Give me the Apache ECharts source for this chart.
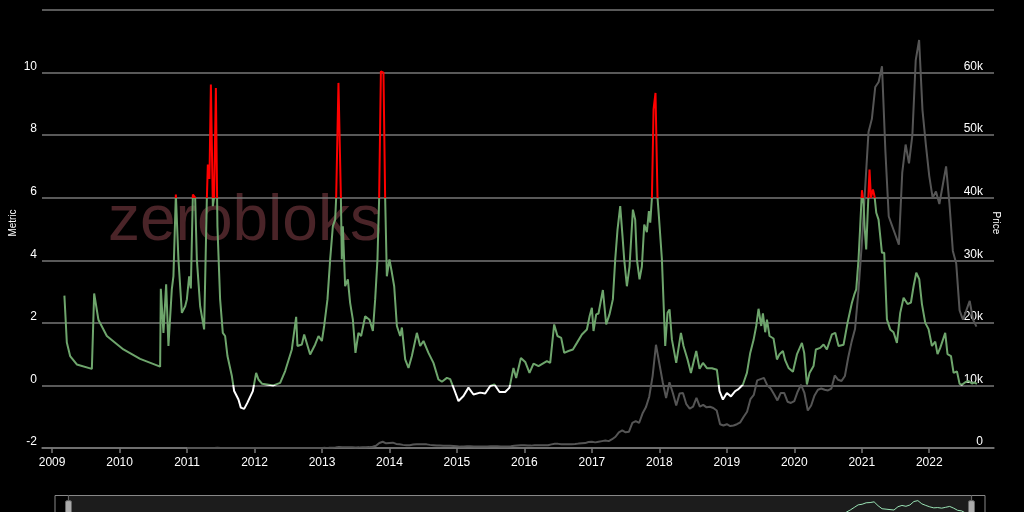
<!DOCTYPE html>
<html>
<head>
<meta charset="utf-8">
<script src="https://cdn.jsdelivr.net/npm/echarts@6/dist/echarts.min.js"></script>
<style>html,body{margin:0;padding:0;background:#000;}#c{width:1024px;height:512px;}</style>
</head>
<body>
<div id="c"></div>
<script>
const yearTicks = [2009,2010,2011,2012,2013,2014,2015,2016,2017,2018,2019,2020,2021,2022];
const metricTicks = [-2,0,2,4,6,8,10,12];
const priceTicks = [0,10,20,30,40,50,60,70];

const metricYears = [
2009.182,2009.218,2009.267,2009.366,2009.589,2009.623,2009.686,2009.811,2010.057,2010.304,
2010.601,2010.611,2010.650,2010.690,2010.724,2010.749,2010.774,2010.798,2010.834,2010.872,
2010.923,2010.972,2010.997,2011.031,2011.056,2011.086,2011.120,2011.145,2011.194,2011.253,
2011.293,2011.308,2011.332,2011.353,2011.382,2011.401,2011.427,2011.450,2011.490,2011.530,
2011.564,2011.599,2011.628,2011.664,2011.698,2011.762,2011.797,2011.846,2011.895,2011.975,
2012.024,2012.058,2012.113,2012.183,2012.280,2012.380,2012.454,2012.553,2012.617,2012.636,
2012.701,2012.736,2012.824,2012.899,2012.948,2012.998,2013.032,2013.081,2013.121,2013.161,
2013.195,2013.210,2013.244,2013.280,2013.294,2013.309,2013.343,2013.383,2013.417,2013.457,
2013.496,2013.540,2013.580,2013.640,2013.704,2013.754,2013.788,2013.822,2013.847,2013.873,
2013.911,2013.936,2013.961,2014.000,2014.036,2014.070,2014.110,2014.159,2014.184,2014.233,
2014.282,2014.332,2014.406,2014.455,2014.504,2014.578,2014.652,2014.726,2014.777,2014.851,
2014.900,2014.959,2015.023,2015.097,2015.171,2015.245,2015.344,2015.419,2015.493,2015.556,
2015.631,2015.715,2015.779,2015.838,2015.878,2015.948,2016.012,2016.075,2016.135,2016.209,
2016.333,2016.382,2016.441,2016.490,2016.545,2016.590,2016.653,2016.719,2016.778,2016.852,
2016.926,2016.965,2017.000,2017.024,2017.064,2017.098,2017.163,2017.212,2017.261,2017.311,
2017.346,2017.380,2017.420,2017.454,2017.479,2017.519,2017.558,2017.608,2017.642,2017.667,
2017.706,2017.741,2017.776,2017.815,2017.845,2017.865,2017.890,2017.914,2017.943,2017.973,
2017.993,2018.038,2018.087,2018.121,2018.151,2018.186,2018.250,2018.320,2018.358,2018.418,
2018.468,2018.547,2018.596,2018.646,2018.705,2018.779,2018.853,2018.892,2018.942,2019.001,
2019.061,2019.124,2019.173,2019.239,2019.298,2019.347,2019.396,2019.436,2019.470,2019.510,
2019.535,2019.569,2019.595,2019.633,2019.692,2019.743,2019.781,2019.831,2019.866,2019.915,
2019.980,2020.039,2020.113,2020.147,2020.187,2020.226,2020.285,2020.320,2020.384,2020.434,
2020.483,2020.558,2020.607,2020.656,2020.730,2020.789,2020.854,2020.889,2020.918,2020.952,
2020.977,2021.003,2021.027,2021.041,2021.066,2021.086,2021.115,2021.136,2021.166,2021.189,
2021.215,2021.249,2021.274,2021.299,2021.333,2021.373,2021.422,2021.471,2021.521,2021.570,
2021.620,2021.679,2021.729,2021.768,2021.808,2021.852,2021.892,2021.941,2021.990,2022.040,
2022.089,2022.123,2022.163,2022.237,2022.271,2022.322,2022.361,2022.411,2022.450,2022.485,
2022.534,2022.583,2022.633,2022.667,2022.707
];
const metricValues = [
2.87,1.37,0.94,0.67,0.53,2.94,2.1,1.58,1.15,0.85,
0.6,3.09,1.68,3.23,1.26,1.26,3.07,3.49,6.1,4.03,
2.32,2.53,2.75,3.49,3.1,6.1,6.0,4.03,2.53,1.79,
5.94,7.06,6.6,9.62,5.73,6.0,9.51,5.09,2.75,1.68,
1.58,0.94,0.94,0.3,-0.18,-0.45,-0.71,-0.75,-0.55,-0.18,
0.4,0.19,0.05,0.03,0.0,0.08,0.46,1.15,2.19,1.26,
1.31,1.63,0.99,1.31,1.58,1.42,1.9,2.75,4.03,5.09,
5.3,6.0,9.67,6.0,4.03,5.09,3.17,3.39,2.64,2.11,
1.04,1.68,1.58,2.21,2.1,1.74,2.75,4.03,6.0,10.04,
10.0,6.0,3.49,4.03,3.6,3.17,1.9,1.58,1.85,0.83,
0.56,0.94,1.68,1.26,1.42,1.04,0.72,0.19,0.12,0.24,
0.2,-0.13,-0.5,-0.34,-0.07,-0.29,-0.23,-0.26,-0.02,0.03,
-0.21,-0.21,-0.07,0.56,0.24,0.88,0.75,0.4,0.7,0.62,
0.78,0.72,1.95,1.58,1.52,1.04,1.1,1.15,1.36,1.63,
1.79,2.2,2.48,1.74,2.27,2.3,3.05,1.95,2.27,2.75,
4.03,4.98,5.73,4.77,4.03,3.17,3.8,5.62,5.3,4.03,
3.39,3.8,5.14,4.9,5.57,5.2,6.0,8.82,9.35,6.0,
5.41,4.03,1.26,2.32,2.43,1.47,0.72,1.68,1.26,0.83,
0.4,1.1,0.53,0.72,0.55,0.55,0.5,-0.18,-0.45,-0.24,
-0.35,-0.18,-0.12,0.03,0.4,1.04,1.45,1.9,2.45,1.9,
2.3,1.7,2.1,1.58,1.5,0.83,1.0,1.1,0.8,0.56,
0.44,0.99,1.36,1.04,0.03,0.4,0.62,1.15,1.2,1.31,
1.15,1.63,1.68,1.26,1.3,2.0,2.64,2.9,3.07,4.03,
5.09,6.24,5.8,5.1,4.35,5.4,6.9,6.0,6.26,6.05,
5.52,5.3,5.3,4.24,4.24,2.11,1.79,1.7,1.36,2.32,
2.8,2.6,2.65,3.17,3.6,3.4,2.6,2.0,1.8,1.26,
1.4,1.0,1.2,1.68,1.0,0.94,0.4,0.45,0.05,0.02,
0.1,0.14,0.06,0.1,0.05
];

// price in thousands, sampled every 0.05 year from 2011.00
const priceStart = 2011.0;
const priceStep = 0.05;
const priceValues = [
0.0003,0.001,0.0009,0.0009,0.0008,0.001,0.004,0.008,0.018,0.02,0.015,0.014,0.011,0.008,0.005,0.004,0.003,0.0025,0.003,0.004,
0.005,0.0065,0.005,0.005,0.005,0.005,0.005,0.005,0.0055,0.0065,0.008,0.009,0.011,0.012,0.012,0.011,0.011,0.012,0.013,0.013,
0.014,0.02,0.03,0.05,0.1,0.16,0.12,0.12,0.11,0.1,0.09,0.1,0.12,0.13,0.14,0.19,0.35,0.8,1.0,0.75,
0.8,0.85,0.65,0.6,0.5,0.45,0.45,0.55,0.6,0.6,0.6,0.58,0.5,0.45,0.4,0.38,0.35,0.37,0.35,0.32,
0.28,0.22,0.24,0.26,0.26,0.23,0.24,0.24,0.23,0.24,0.27,0.28,0.26,0.23,0.24,0.24,0.28,0.36,0.4,0.44,
0.43,0.39,0.38,0.42,0.42,0.42,0.45,0.45,0.58,0.68,0.66,0.6,0.58,0.6,0.61,0.64,0.7,0.74,0.78,0.95,
1.0,0.9,1.0,1.1,1.2,1.1,1.4,1.8,2.5,2.8,2.5,2.6,4.0,4.3,4.0,5.5,6.5,8.2,11.5,16.5,
13.5,10.5,8.0,10.5,8.8,6.8,8.7,8.8,7.0,6.3,6.6,8.0,6.6,6.9,6.5,6.6,6.4,6.0,3.8,3.6,
3.8,3.5,3.6,3.8,4.1,5.0,5.8,7.8,8.5,10.8,11.0,11.2,10.0,9.5,8.6,7.6,8.8,8.8,7.4,7.2,
7.5,9.0,10.1,8.8,6.0,6.8,8.4,9.3,9.5,9.3,9.2,9.5,11.6,10.9,10.7,11.5,14.5,17.0,19.0,25.0,
32.5,41.5,50.5,52.6,57.7,58.5,61.0,47.5,37.0,35.5,34.0,32.5,44.0,48.5,45.5,50.0,62.0,65.2,54.0,48.5,
43.5,40.0,41.0,39.0,42.0,45.0,39.0,31.5,29.5,22.0,20.5,22.0,23.5,20.5,19.4
];

const metricData = metricYears.map((y, i) => [y, metricValues[i]]);
const priceData = priceValues.map((v, i) => [Math.round((priceStart + i * priceStep) * 1000) / 1000, v]);

const GRID = '#777';
const TXT = '#ffffff';
const FONT = '"Liberation Sans", Arial, Helvetica, sans-serif';

const chart = echarts.init(document.getElementById('c'), null, {renderer: 'canvas'});
chart.setOption({
  backgroundColor: '#000',
  animation: false,
  textStyle: {fontFamily: FONT},
  graphic: [{
    type: 'text', left: 108, top: 190, z: -1, silent: true,
    style: {text: 'zerobloks', fill: '#4a2428', font: '64px ' + FONT}
  }],
  grid: {left: 42, right: 30, top: 10, bottom: 64, outerBoundsMode: 'none', containLabel: false},
  xAxis: {
    type: 'value', min: 2008.647, max: 2023.163,
    axisLine: {onZero: false, lineStyle: {color: GRID, width: 1.5}},
    axisTick: {customValues: yearTicks, length: 5, lineStyle: {color: GRID, width: 1.5}},
    axisLabel: {customValues: yearTicks, color: TXT, fontSize: 12, margin: 9, formatter: v => String(Math.round(v))},
    splitLine: {show: false}
  },
  yAxis: [{
    type: 'value', min: metricTicks[0], max: metricTicks[metricTicks.length - 1], interval: 2,
    name: 'Metric', nameLocation: 'middle', nameGap: 24, nameRotate: 90, nameMoveOverlap: false,
    nameTextStyle: {color: TXT, fontSize: 10, padding: [0, 0, 0, 12]},
    axisLine: {show: false}, axisTick: {show: false},
    axisLabel: {color: TXT, fontSize: 12, margin: 5, verticalAlign: 'bottom', showMaxLabel: false},
    splitLine: {lineStyle: {color: GRID, width: 1.5}}
  }, {
    type: 'value', min: priceTicks[0], max: priceTicks[priceTicks.length - 1], interval: 10, position: 'right',
    name: 'Price', nameLocation: 'middle', nameGap: -3, nameRotate: -90, nameMoveOverlap: false,
    nameTextStyle: {color: TXT, fontSize: 10, padding: [0, 12, 0, 0]},
    axisLine: {show: false}, axisTick: {show: false},
    axisLabel: {inside: true, color: TXT, fontSize: 12, margin: 11, verticalAlign: 'bottom', showMaxLabel: false,
      formatter: v => v === 0 ? '0' : v + 'k'},
    splitLine: {show: false}
  }],
  dataZoom: [{
    type: 'slider', xAxisIndex: 0, filterMode: 'none',
    startValue: 2008.85, endValue: 2022.96,
    left: 52, right: 41, top: 495, height: 30,
    showDetail: false, moveHandleSize: 0, brushSelect: false,
    backgroundColor: 'rgba(0,0,0,0)', borderColor: '#888',
    fillerColor: 'rgba(255,255,255,0.11)',
    handleStyle: {color: '#aaaaaa', borderColor: '#666666'},
    dataBackground: {lineStyle: {color: '#7ccf9a', width: 1, opacity: 1}, areaStyle: {color: 'rgba(124,207,154,0)'}},
    selectedDataBackground: {lineStyle: {color: '#8ee0ac', width: 1, opacity: 1}, areaStyle: {color: 'rgba(124,207,154,0)'}}
  }],
  visualMap: {
    type: 'piecewise', show: false, seriesIndex: 1, dimension: 1,
    pieces: [
      {lt: 0, color: '#ffffff'},
      {gte: 0, lte: 6, color: '#6ea56c'},
      {gt: 6, color: '#ff0000'}
    ]
  },
  series: [{
    name: 'Price', type: 'line', yAxisIndex: 1, data: priceData,
    showSymbol: false, symbol: 'none',
    lineStyle: {color: '#555555', width: 2}, itemStyle: {color: '#555555'}
  }, {
    name: 'Metric', type: 'line', yAxisIndex: 0, data: metricData,
    showSymbol: false, symbol: 'none',
    lineStyle: {width: 2}
  }]
});
</script>
</body>
</html>
